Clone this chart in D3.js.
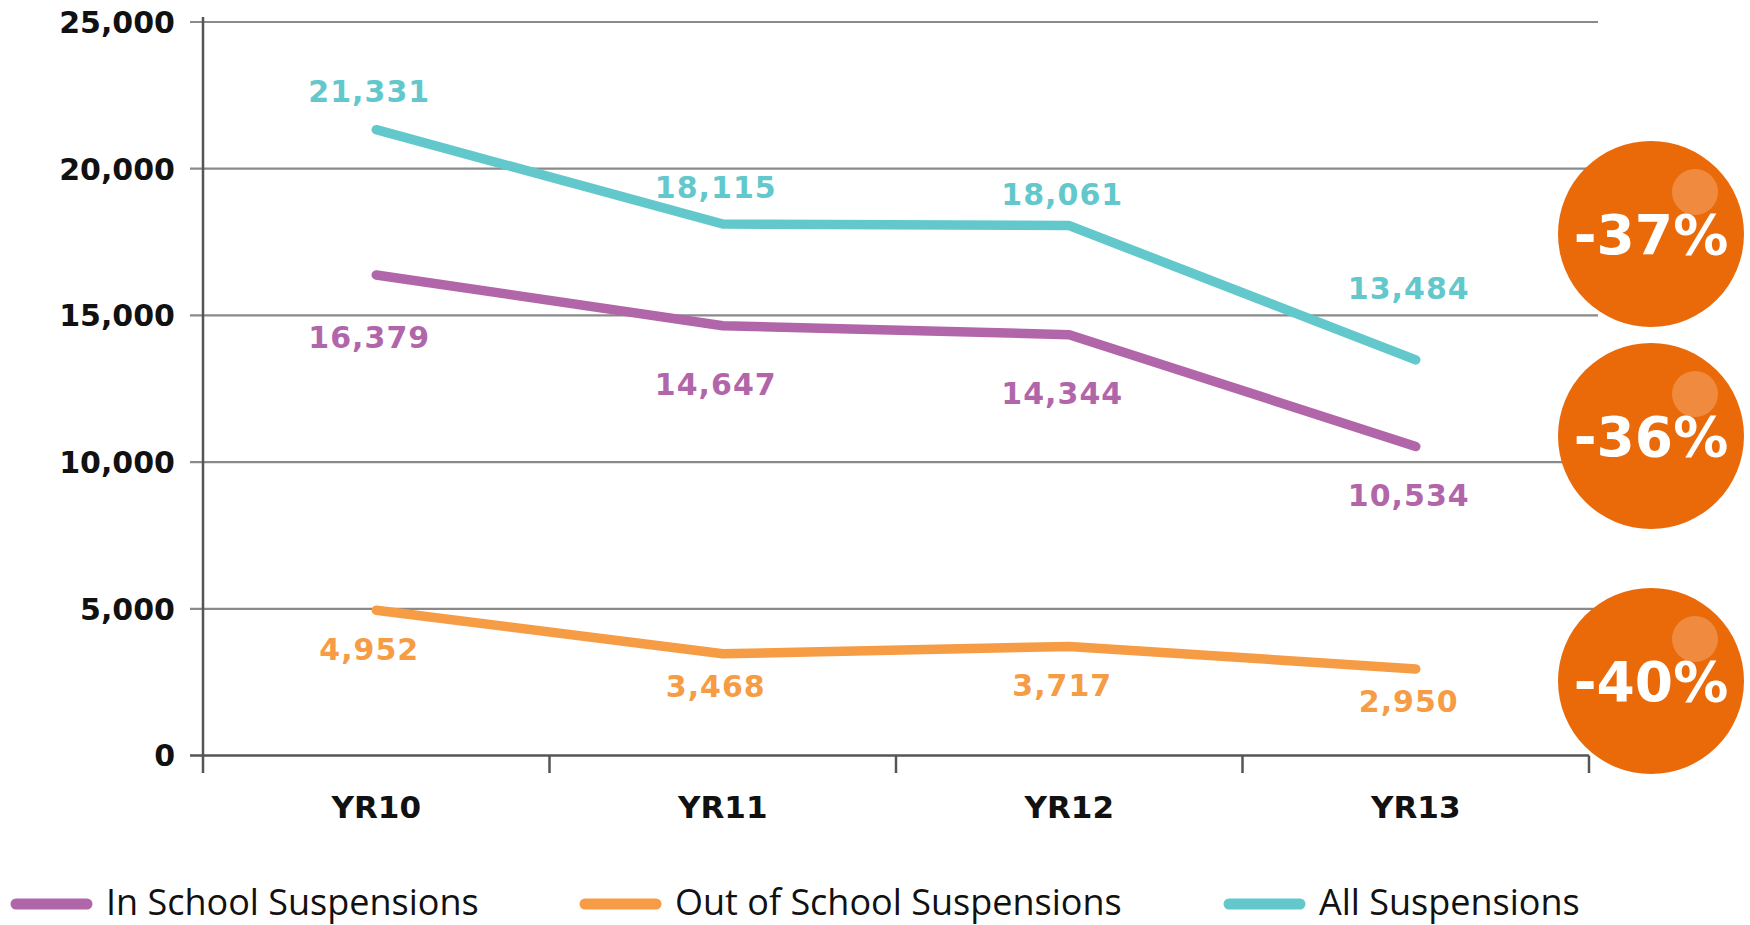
<!DOCTYPE html>
<html>
<head>
<meta charset="utf-8">
<script src="https://cdn.jsdelivr.net/npm/d3@7"></script>
<style>
  body { margin: 0; background: #fff; }
  svg { display: block; }
</style>
</head>
<body>
<div id="chart"></div>
<script>
// chart data
var years = ['YR10', 'YR11', 'YR12', 'YR13'];
var inSchool = [16379, 14647, 14344, 10534];
var outSchool = [4952, 3468, 3717, 2950];
var allSusp = [21331, 18115, 18061, 13484];
var yTicks = [0, 5000, 10000, 15000, 20000, 25000];
var changes = ['-37%', '-36%', '-40%'];

var W = 1750, H = 925;
var series = [
  { name: 'In School Suspensions', values: inSchool, color: '#b266aa', dy: [62, 58, 59, 49] },
  { name: 'Out of School Suspensions', values: outSchool, color: '#f59c45', dy: [39, 32, 39, 32] },
  { name: 'All Suspensions', values: allSusp, color: '#62c8cc', dy: [-38, -37, -31, -72] }
];

var svg = d3.select('#chart').append('svg').attr('width', W).attr('height', H);

var x = d3.scaleBand().domain(years).range([203, 1589]).padding(0);
var y = d3.scaleLinear().domain([0, 25000]).range([755.5, 22]);
var cx = function(c) { return x(c) + x.bandwidth() / 2; };

// grid lines
svg.selectAll('line.grid').data(yTicks.slice(1)).enter().append('line')
  .attr('x1', 190).attr('x2', 1598)
  .attr('y1', y).attr('y2', y)
  .attr('stroke', '#8a8a8a').attr('stroke-width', 2.2);

// axes
svg.append('line').attr('x1', 190).attr('x2', 1589).attr('y1', y(0)).attr('y2', y(0))
  .attr('stroke', '#555').attr('stroke-width', 2.5);
svg.append('line').attr('x1', 203).attr('x2', 203).attr('y1', 17).attr('y2', 773)
  .attr('stroke', '#555').attr('stroke-width', 2.5);
var bounds = years.map(function(c) { return x(c); }).concat([x.range()[1]]);
svg.selectAll('line.xtick').data(bounds.slice(1)).enter().append('line')
  .attr('x1', function(d) { return d; }).attr('x2', function(d) { return d; })
  .attr('y1', y(0)).attr('y2', 773)
  .attr('stroke', '#555').attr('stroke-width', 2.5);

// y labels
svg.selectAll('text.ytick').data(yTicks).enter().append('text')
  .attr('x', 175).attr('y', y).attr('dy', '0.36em')
  .attr('text-anchor', 'end')
  .style('font-family', 'DejaVu Sans').style('font-weight', 'bold').style('font-size', '30px')
  .attr('fill', '#111')
  .text(d3.format(','));

// x labels
svg.selectAll('text.xtick').data(years).enter().append('text')
  .attr('x', cx).attr('y', 818)
  .attr('text-anchor', 'middle')
  .style('font-family', 'DejaVu Sans').style('font-weight', 'bold').style('font-size', '31px')
  .attr('fill', '#111')
  .text(function(d) { return d; });

// lines
var line = d3.line().x(function(d, i) { return cx(years[i]); }).y(function(d) { return y(d); });
series.forEach(function(s) {
  svg.append('path').datum(s.values)
    .attr('d', line)
    .attr('fill', 'none').attr('stroke', s.color).attr('stroke-width', 9.5)
    .attr('stroke-linecap', 'round').attr('stroke-linejoin', 'round');
  svg.selectAll(null).data(s.values).enter().append('text')
    .attr('x', function(d, i) { return cx(years[i]) - 7; })
    .attr('y', function(d, i) { return y(d) + s.dy[i]; })
    .attr('dy', '0.36em')
    .attr('text-anchor', 'middle')
    .style('font-family', 'DejaVu Sans').style('font-weight', 'bold').style('font-size', '30px')
    .style('letter-spacing', '1px')
    .attr('fill', s.color)
    .text(d3.format(','));
});

// change bubbles
var bubbleY = [234, 436, 681];
var bubbles = svg.selectAll('g.bubble').data(changes).enter().append('g')
  .attr('transform', function(d, i) { return 'translate(1651,' + bubbleY[i] + ')'; });
bubbles.append('circle').attr('r', 93).attr('fill', '#ea6a0a');
bubbles.append('circle').attr('cx', 44).attr('cy', -42).attr('r', 23)
  .attr('fill', '#f4a060').attr('opacity', 0.6);
bubbles.append('text')
  .attr('text-anchor', 'middle').attr('dy', '0.36em')
  .style('font-family', 'DejaVu Sans').style('font-weight', 'bold').style('font-size', '55px')
  .attr('fill', '#fff')
  .text(function(d) { return d; });

// legend
var legX = [11, 580, 1224];
var leg = svg.selectAll('g.legend').data(series).enter().append('g')
  .attr('transform', function(d, i) { return 'translate(' + legX[i] + ',904)'; });
leg.append('line').attr('x1', 5).attr('x2', 76).attr('y1', 0).attr('y2', 0)
  .attr('stroke', function(d) { return d.color; }).attr('stroke-width', 11)
  .attr('stroke-linecap', 'round');
leg.append('text').attr('x', 95).attr('y', 11)
  .style('font-family', 'Open Sans').style('font-size', '36px')
  .attr('fill', '#111')
  .text(function(d) { return d.name; });
</script>
</body>
</html>
